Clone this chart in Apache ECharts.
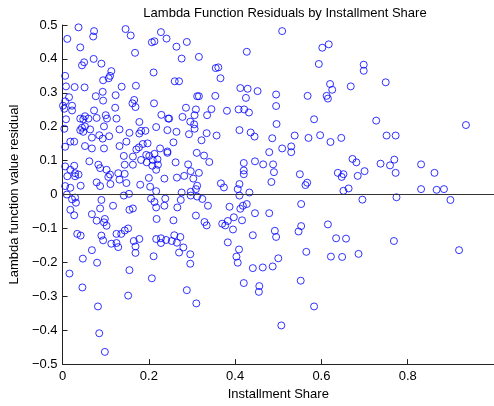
<!DOCTYPE html>
<html><head><meta charset="utf-8">
<script src="https://cdn.jsdelivr.net/npm/echarts@6/dist/echarts.min.js"></script>
<style>html,body{margin:0;padding:0;background:#fff}#c{width:494px;height:406px}</style>
</head><body><div id="c"></div>
<script>
const titleText = 'Lambda Function Residuals by Installment Share';
const xAxisName = 'Installment Share';
const yAxisName = 'Lambda function value residual';
const xTicks = { min: 0, max: 1, step: 0.2 };
const yTicks = { min: -0.5, max: 0.5, step: 0.1 };

// [installment share, residual]
const shareBelow025Top = [
[0.037,0.493],[0.011,0.459],[0.073,0.482],[0.071,0.466],[0.041,0.434],[0.146,0.488],[0.158,0.469],[0.228,0.479],[0.207,0.449],[0.213,0.452],
[0.241,0.460],[0.168,0.418],[0.072,0.400],[0.050,0.390],[0.045,0.381],[0.090,0.386],[0.113,0.364],[0.110,0.350],[0.094,0.337],[0.107,0.343],
[0.211,0.360],[0.006,0.350],[0.008,0.319],[0.028,0.317],[0.051,0.316],[0.137,0.318],[0.170,0.321],[0.093,0.303],[0.077,0.290],[0.123,0.293],
[0.015,0.287],[0.006,0.275],[0.094,0.277],[0.166,0.279],[0.162,0.269],[0.169,0.258],[0.212,0.269],[0.001,0.262],[0.022,0.262],[0.022,0.248],
[0.004,0.253],[0.122,0.256],[0.073,0.248],[0.229,0.235],[0.100,0.234],[0.103,0.224],[0.125,0.224],[0.052,0.231],[0.041,0.224],[0.048,0.222],
[0.060,0.224],[0.079,0.226],[0.008,0.222],[0.178,0.214],[0.245,0.224]
];
const shareBelow025Mid = [
[0.004,0.194],[0.045,0.197],[0.052,0.201],[0.041,0.190],[0.064,0.192],[0.048,0.185],[0.096,0.201],[0.132,0.192],[0.155,0.182],[0.182,0.188],
[0.192,0.188],[0.178,0.180],[0.217,0.199],[0.243,0.190],[0.006,0.141],[0.018,0.156],[0.027,0.156],[0.068,0.168],[0.085,0.175],[0.093,0.165],
[0.108,0.172],[0.052,0.143],[0.068,0.136],[0.096,0.136],[0.132,0.143],[0.148,0.156],[0.171,0.133],[0.177,0.139],[0.186,0.149],[0.197,0.151],
[0.226,0.136],[0.243,0.127],[0.213,0.120],[0.201,0.114],[0.194,0.117],[0.163,0.112],[0.142,0.114],[0.062,0.098],[0.083,0.088],[0.087,0.078],
[0.102,0.073],[0.110,0.059],[0.106,0.052],[0.129,0.063],[0.144,0.088],[0.163,0.088],[0.182,0.102],[0.195,0.095],[0.209,0.102],[0.220,0.104],
[0.208,0.085],[0.221,0.088],[0.217,0.073],[0.006,0.083],[0.027,0.085],[0.018,0.073],[0.029,0.063],[0.037,0.059],[0.011,0.054],[0.029,0.054],
[0.144,0.061],[0.132,0.044],[0.148,0.034],[0.079,0.036],[0.087,0.025],[0.111,0.031],[0.180,0.029],[0.200,0.049],[0.203,0.023],[0.217,0.010],
[0.006,0.025],[0.018,0.020],[0.042,0.026],[0.010,0.000],[0.029,-0.009],[0.022,-0.014],[0.031,-0.024],[0.018,-0.045],[0.027,-0.061],[0.090,-0.016],
[0.087,-0.041],[0.117,-0.033],[0.142,-0.003],[0.154,0.002],[0.155,-0.045],[0.163,-0.041],[0.205,-0.012],[0.213,-0.022],[0.217,-0.038],[0.238,-0.012],
[0.068,-0.058],[0.079,-0.077],[0.098,-0.072],[0.096,-0.082],[0.102,-0.092],[0.144,-0.106],[0.152,-0.100],[0.136,-0.116],[0.125,-0.116],[0.218,-0.072],
[0.034,-0.116],[0.042,-0.121],[0.090,-0.121],[0.178,-0.131],[0.217,-0.131],[0.228,-0.129]
];
const shareBelow025Low = [
[0.094,-0.135],[0.113,-0.145],[0.125,-0.143],[0.129,-0.155],[0.165,-0.137],[0.169,-0.153],[0.169,-0.172],[0.228,-0.143],[0.240,-0.134],[0.068,-0.164],
[0.047,-0.189],[0.080,-0.201],[0.211,-0.182],[0.016,-0.233],[0.155,-0.223],[0.207,-0.247],[0.046,-0.274],[0.152,-0.298],[0.082,-0.330],[0.085,-0.409],
[0.098,-0.464]
];
const share025to05Pos = [
[0.264,0.436],[0.288,0.450],[0.276,0.401],[0.316,0.406],[0.355,0.373],[0.361,0.375],[0.366,0.343],[0.427,0.421],[0.260,0.334],[0.270,0.334],
[0.312,0.290],[0.316,0.290],[0.354,0.291],[0.412,0.314],[0.429,0.312],[0.452,0.305],[0.425,0.285],[0.495,0.295],[0.495,0.261],[0.247,0.224],
[0.278,0.229],[0.286,0.256],[0.309,0.251],[0.306,0.234],[0.335,0.234],[0.345,0.252],[0.381,0.247],[0.408,0.251],[0.421,0.251],[0.432,0.242],
[0.296,0.215],[0.305,0.207],[0.306,0.194],[0.293,0.178],[0.264,0.185],[0.334,0.181],[0.357,0.174],[0.410,0.190],[0.436,0.183],[0.445,0.171],
[0.496,0.208],[0.486,0.166],[0.322,0.160],[0.257,0.154],[0.243,0.123],[0.311,0.123],[0.328,0.115],[0.340,0.096],[0.262,0.095],[0.291,0.089],
[0.297,0.069],[0.316,0.064],[0.282,0.055],[0.265,0.050],[0.303,0.047],[0.236,0.047],[0.420,0.093],[0.420,0.071],[0.420,0.060],[0.446,0.098],
[0.465,0.089],[0.479,0.125],[0.488,0.089],[0.490,0.066],[0.484,0.037],[0.367,0.033],[0.374,0.021],[0.410,0.031],[0.406,0.016],[0.433,0.006],
[0.312,0.026],[0.309,0.016],[0.297,0.008],[0.276,0.006]
];
const share025to05Neg = [
[0.297,-0.003],[0.312,-0.006],[0.324,-0.013],[0.410,-0.003],[0.274,-0.016],[0.266,-0.038],[0.236,-0.033],[0.337,-0.033],[0.387,-0.036],[0.427,-0.028],
[0.418,-0.033],[0.412,-0.042],[0.446,-0.055],[0.479,-0.055],[0.309,-0.062],[0.397,-0.067],[0.257,-0.076],[0.383,-0.078],[0.416,-0.076],[0.329,-0.081],
[0.334,-0.091],[0.370,-0.086],[0.377,-0.091],[0.395,-0.103],[0.441,-0.120],[0.492,-0.107],[0.495,-0.125],[0.259,-0.120],[0.273,-0.125],[0.253,-0.137],
[0.265,-0.142],[0.280,-0.156],[0.270,-0.171],[0.296,-0.176],[0.296,-0.204],[0.383,-0.141],[0.409,-0.162],[0.403,-0.183],[0.406,-0.201],[0.441,-0.217],
[0.464,-0.215],[0.487,-0.212],[0.500,-0.188],[0.420,-0.261],[0.456,-0.270],[0.455,-0.287],[0.288,-0.282],[0.310,-0.321],[0.507,-0.386]
];
const share05to075 = [
[0.509,0.482],[0.602,0.433],[0.617,0.443],[0.594,0.385],[0.698,0.383],[0.698,0.365],[0.620,0.326],[0.625,0.309],[0.668,0.319],[0.612,0.291],
[0.615,0.283],[0.568,0.291],[0.583,0.222],[0.727,0.218],[0.538,0.174],[0.570,0.167],[0.597,0.175],[0.621,0.155],[0.646,0.167],[0.509,0.136],
[0.530,0.142],[0.530,0.125],[0.672,0.105],[0.681,0.095],[0.737,0.091],[0.550,0.060],[0.638,0.064],[0.651,0.060],[0.647,0.052],[0.684,0.055],
[0.700,0.069],[0.567,0.035],[0.563,0.028],[0.651,0.011],[0.663,0.018],[0.695,-0.015],[0.553,-0.028],[0.553,-0.093],[0.547,-0.109],[0.615,-0.088],
[0.634,-0.129],[0.657,-0.130],[0.565,-0.169],[0.622,-0.183],[0.648,-0.184],[0.686,-0.175],[0.552,-0.254],[0.583,-0.330]
];
const shareAbove075 = [
[0.749,0.331],[0.935,0.205],[0.751,0.174],[0.772,0.174],[0.759,0.086],[0.769,0.103],[0.772,0.064],[0.831,0.089],[0.862,0.064],[0.831,0.016],
[0.867,0.014],[0.884,0.016],[0.774,-0.008],[0.899,-0.016],[0.768,-0.137],[0.919,-0.164]
];

const points = [].concat(shareBelow025Top, shareBelow025Mid, shareBelow025Low,
  share025to05Pos, share025to05Neg, share05to075, shareAbove075);

const FONT = '"Liberation Sans", Arial, Helvetica, sans-serif';
const fmt = v => {
  const r = Math.round(v * 10) / 10;
  if (r === 0) return '0';
  return (r < 0 ? '\u2212' : '') + Math.abs(r).toString();
};
const axisCol = '#222';

const chart = echarts.init(document.getElementById('c'), null, { renderer: 'canvas' });
chart.setOption({
  animation: false,
  backgroundColor: '#fff',
  textStyle: { fontFamily: FONT },
  title: {
    text: titleText, left: 280, top: 2, textAlign: 'center',
    textStyle: { fontSize: 13, fontWeight: 'normal', color: '#000', fontFamily: FONT }
  },
  grid: { left: 62, right: -4, top: 25, bottom: 37, containLabel: false },
  xAxis: {
    type: 'value', min: xTicks.min, max: xTicks.max, interval: xTicks.step,
    name: xAxisName, nameLocation: 'middle', nameGap: 23,
    nameTextStyle: { fontSize: 13, color: '#000', fontFamily: FONT },
    axisLine: { onZero: false, lineStyle: { color: axisCol, width: 1 } },
    axisTick: { inside: true, length: 5, lineStyle: { color: axisCol } },
    axisLabel: { showMaxLabel: false, fontSize: 13, color: '#000', margin: 6, formatter: fmt, fontFamily: FONT },
    splitLine: { show: false }
  },
  yAxis: {
    type: 'value', min: yTicks.min, max: yTicks.max, interval: yTicks.step,
    name: yAxisName, nameLocation: 'middle', nameGap: 34,
    nameTextStyle: { fontSize: 13, color: '#000', fontFamily: FONT },
    axisLine: { onZero: false, lineStyle: { color: axisCol, width: 1 } },
    axisTick: { inside: true, length: 5, lineStyle: { color: axisCol } },
    axisLabel: { fontSize: 13, color: '#000', margin: 5, formatter: fmt, fontFamily: FONT },
    splitLine: { show: false }
  },
  series: [{
    type: 'scatter',
    data: points,
    symbol: 'circle',
    symbolSize: 7,
    itemStyle: { color: 'rgba(0,0,0,0)', borderColor: '#0000ff', borderWidth: 1 },
    emphasis: { disabled: true },
    markLine: {
      silent: true, symbol: ['none', 'none'], label: { show: false },
      lineStyle: { color: '#333', width: 1, type: 'solid' },
      emphasis: { disabled: true },
      data: [{ yAxis: 0 }]
    }
  }]
});
</script>
</body></html>
